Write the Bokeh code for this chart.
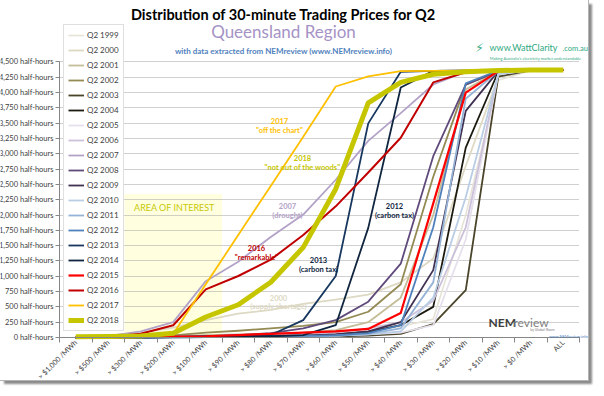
import math
from bokeh.plotting import figure
from bokeh.models import Range1d, FixedTicker, Legend, LegendItem, Label, BoxAnnotation
from bokeh.embed import file_html
from bokeh.resources import INLINE

# ---------------- data ----------------
categories = ["> $1,000 /MWh", "> $500 /MWh", "> $300 /MWh", "> $200 /MWh", "> $100 /MWh",
              "> $90 /MWh", "> $80 /MWh", "> $70 /MWh", "> $60 /MWh", "> $50 /MWh",
              "> $40 /MWh", "> $30 /MWh", "> $20 /MWh", "> $10 /MWh", "> $0 /MWh", "ALL"]
y_ticks = list(range(0, 4501, 250))

q2_1999 = [0, 0, 5, 10, 20, 30, 40, 50, 70, 100, 180, 300, 2000, 4200, 4360, 4368]
q2_2000 = [10, 30, 80, 160, 285, 390, 450, 550, 620, 700, 900, 1290, 2800, 4250, 4360, 4368]
q2_2001 = [0, 5, 10, 20, 40, 50, 60, 80, 120, 250, 650, 2000, 4050, 4350, 4365, 4368]
q2_2002 = [0, 5, 15, 35, 80, 110, 150, 190, 250, 420, 870, 2626, 4130, 4350, 4365, 4368]
q2_2003 = [0, 0, 0, 2, 5, 8, 10, 15, 20, 30, 60, 220, 775, 4260, 4365, 4368]
q2_2004 = [0, 0, 0, 5, 10, 15, 20, 30, 50, 90, 200, 500, 3100, 4340, 4365, 4368]
q2_2005 = [0, 0, 0, 0, 5, 10, 15, 20, 30, 50, 80, 200, 1600, 4300, 4365, 4368]
q2_2006 = [0, 0, 5, 10, 20, 30, 40, 50, 80, 150, 250, 600, 1800, 4310, 4365, 4368]
q2_2007 = [5, 20, 100, 250, 920, 1238, 1640, 2008, 2576, 3212, 3664, 4132, 4340, 4360, 4365, 4368]
q2_2008 = [0, 0, 5, 10, 20, 40, 70, 150, 284, 585, 1205, 2960, 4130, 4350, 4365, 4368]
q2_2009 = [0, 0, 0, 5, 10, 15, 20, 30, 50, 100, 250, 1100, 3700, 4350, 4365, 4368]
q2_2010 = [0, 0, 0, 0, 5, 10, 15, 20, 30, 50, 100, 650, 2290, 4300, 4365, 4368]
q2_2011 = [0, 0, 0, 0, 5, 10, 15, 20, 30, 60, 150, 900, 3900, 4350, 4365, 4368]
q2_2012 = [0, 0, 0, 5, 10, 15, 20, 25, 35, 70, 200, 1800, 4150, 4360, 4365, 4368]
q2_2013 = [0, 0, 5, 10, 20, 30, 40, 284, 1004, 3497, 4340, 4355, 4360, 4365, 4368, 4368]
q2_2014 = [0, 0, 0, 5, 10, 15, 20, 40, 200, 1790, 4082, 4355, 4360, 4365, 4368, 4368]
q2_2015 = [0, 5, 10, 15, 20, 40, 60, 80, 100, 140, 400, 2190, 4000, 4350, 4365, 4368]
q2_2016 = [0, 10, 60, 200, 786, 1004, 1272, 1673, 2142, 2694, 3263, 4166, 4333, 4355, 4365, 4368]
q2_2017 = [10, 20, 30, 60, 870, 1673, 2476, 3279, 4099, 4266, 4350, 4355, 4360, 4365, 4368, 4368]
q2_2018 = [10, 15, 25, 70, 335, 535, 903, 1472, 2426, 3831, 4166, 4300, 4340, 4360, 4368, 4368]

series = [
    ("Q2 1999", q2_1999, "#e6e3d6", 1.6),
    ("Q2 2000", q2_2000, "#ddd9c3", 1.8),
    ("Q2 2001", q2_2001, "#c4bd97", 1.8),
    ("Q2 2002", q2_2002, "#948a54", 1.8),
    ("Q2 2003", q2_2003, "#4a452a", 1.8),
    ("Q2 2004", q2_2004, "#1d1b10", 1.8),
    ("Q2 2005", q2_2005, "#e5e0ec", 1.8),
    ("Q2 2006", q2_2006, "#ccc1da", 1.8),
    ("Q2 2007", q2_2007, "#b3a2c7", 1.8),
    ("Q2 2008", q2_2008, "#604a7b", 1.8),
    ("Q2 2009", q2_2009, "#403152", 1.8),
    ("Q2 2010", q2_2010, "#b9cde5", 1.8),
    ("Q2 2011", q2_2011, "#95b3d7", 1.8),
    ("Q2 2012", q2_2012, "#4f81bd", 1.8),
    ("Q2 2013", q2_2013, "#17375e", 1.8),
    ("Q2 2014", q2_2014, "#10253f", 1.8),
    ("Q2 2015", q2_2015, "#ff0000", 2.2),
    ("Q2 2016", q2_2016, "#c00000", 2.0),
    ("Q2 2017", q2_2017, "#ffc000", 1.8),
    ("Q2 2018", q2_2018, "#c6c600", 5.0),
]

# ---------------- figure ----------------
W, H = 588, 380
PX0, PY0 = 8, 8                   # page offset of the figure
FL, FR, FT, FB = 67, 587, 68, 337  # axis extents in page pixels (value range 0..4500, 16 categories)
YMAX = 4500
NCAT = len(categories)
RES_L, RES_B = 0, 9               # space the layout still keeps at the left / bottom edge
FRAME_L, FRAME_B = PX0 + RES_L, PY0 + H - RES_B


def dx(px):
    return (px - FL) / (FR - FL) * NCAT


def dy(py):
    return (FB - py) / (FB - FT) * YMAX


# the frame covers the whole canvas; both axes are pinned at value 0
p = figure(width=W, height=H,
           x_range=Range1d(dx(FRAME_L), dx(PX0 + W)), y_range=Range1d(dy(FRAME_B), dy(PY0)),
           output_backend="svg", toolbar_location=None,
           min_border_left=0, min_border_right=0,
           min_border_top=0, min_border_bottom=0)
p.outline_line_color = None
p.background_fill_color = "white"
p.border_fill_color = "white"
p.styles = {"outline": "1px solid #b4b4b4", "box-shadow": "4px 4px 2px #8a8a8a"}

xs = [i + 0.5 for i in range(NCAT)]

# area of interest
p.add_layout(BoxAnnotation(left=2, right=5, bottom=0, top=dy(197),
                           fill_color="#ffffe0", fill_alpha=1, line_color=None, level="image"))

items = []
for name, vals, col, w in series:
    r = p.line(xs, vals, line_color=col, line_width=w, line_join="round")
    items.append(LegendItem(label=name, renderers=[r]))

# axes
xa = p.xaxis[0]
xa.fixed_location = 0
xa.bounds = (0, NCAT)
xa.ticker = FixedTicker(ticks=xs, minor_ticks=list(range(NCAT + 1)))
xa.major_label_overrides = {x: c for x, c in zip(xs, categories)}
xa.major_label_orientation = math.pi / 4
xa.major_tick_line_color = None
xa.major_tick_out = 0
xa.major_tick_in = 0
xa.minor_tick_out = 5
xa.minor_tick_in = 0
xa.minor_tick_line_color = "#868686"
xa.axis_line_color = "#868686"
xa.major_label_text_font = "Lato"
xa.major_label_text_font_size = "7.2px"
xa.major_label_text_color = "#404040"
xa.major_label_standoff = -1

ya = p.yaxis[0]
ya.fixed_location = 0
ya.bounds = (0, YMAX)
ya.ticker = FixedTicker(ticks=y_ticks)
ya.major_label_overrides = {t: f"{t:,} half-hours" for t in y_ticks}
ya.minor_tick_line_color = None
ya.major_tick_out = 4
ya.major_tick_in = 0
ya.major_tick_line_color = "#868686"
ya.axis_line_color = "#868686"
ya.major_label_text_font = "Lato"
ya.major_label_text_font_size = "7.5px"
ya.major_label_text_color = "#404040"
ya.major_label_standoff = 2

p.xgrid.visible = False
yg = p.ygrid[0]
yg.ticker = FixedTicker(ticks=y_ticks[1:])
yg.grid_line_color = "#a0a0a0"
yg.grid_line_dash = "1 1"
yg.grid_line_width = 1
if "cross_bounds" in yg.properties():
    yg.cross_bounds = (0, NCAT)

# legend box: left edge at page x 71, bottom edge at page y 330
legend = Legend(items=items, location=(71 - FRAME_L, FRAME_B - 330), orientation="vertical",
                label_text_font="Lato", label_text_font_size="8px", label_text_color="#404040",
                glyph_width=16, glyph_height=12, label_height=12, label_width=27,
                spacing=3, padding=4, margin=0, label_standoff=3,
                border_line_color="#bfbfbf", background_fill_color="white",
                background_fill_alpha=1)
p.add_layout(legend)

YOFF = 3  # "middle" baseline sits a bit high in the svg output


def lab(text, px, py, size, color, bold=False, align="center", font="Lato"):
    p.add_layout(Label(x=dx(px), y=dy(py + YOFF), text=text, text_font=font,
                       text_font_size=f"{size}px", text_color=color,
                       text_font_style="bold" if bold else "normal",
                       text_align=align, text_baseline="middle"))


# titles
lab("Distribution of 30-minute Trading Prices for Q2", 291, 19, 14.5, "#000000", bold=True)
lab("Queensland Region", 291, 35, 17, "#a593c6")
lab("with data extracted from NEMreview (www.NEMreview.info)", 291, 54, 8, "#4f81bd", bold=True)

# WattClarity logo
lab("\u26a1", 487, 51, 12, "#2fa982", font="DejaVu Sans")
lab("www.WattClarity", 497, 51, 9, "#2fa982", align="left")
lab(".com.au", 570, 52, 7.5, "#2fa982", align="left")
lab("Making Australia's electricity market understandable", 543, 62, 4, "#2fa982")

# NEMreview logo
lab("NEM", 496, 319, 12, "#404040", bold=True, align="left")
lab("review", 521, 319, 12, "#7f7f7f", align="left")
lab("by Global-Roam", 550, 327, 3.5, "#7f7f7f")
lab("www.NEMreview.info", 576, 333, 4, "#4f81bd")

# annotations
AF = 7.5
lab("AREA OF INTEREST", 182, 207, 9, "#c8c800")
lab("2017", 287, 123, AF, "#ffc000", bold=True)
lab('"off the chart"', 287, 132, AF, "#ffc000", bold=True)
lab("2018", 310, 159, AF, "#c6c600", bold=True)
lab('"not out of the woods"', 310, 168, AF, "#c6c600", bold=True)
lab("2007", 295, 206, AF, "#b3a2c7", bold=True)
lab("(drought)", 295, 215, AF, "#b3a2c7", bold=True)
lab("2016", 264, 247, AF, "#c00000", bold=True)
lab('"remarkable"', 264, 256, AF, "#c00000", bold=True)
lab("2013", 326, 258, AF, "#10253f", bold=True)
lab("(carbon tax)", 326, 268, AF, "#10253f", bold=True)
lab("2012", 402, 206, AF, "#10253f", bold=True)
lab("(carbon tax)", 402, 215, AF, "#10253f", bold=True)
lab("2000", 286, 295, AF, "#ddd9c3", bold=True)
lab("(supply shortage)", 286, 304, AF, "#ddd9c3", bold=True)

open("out.html", "w").write(file_html(p, INLINE))
